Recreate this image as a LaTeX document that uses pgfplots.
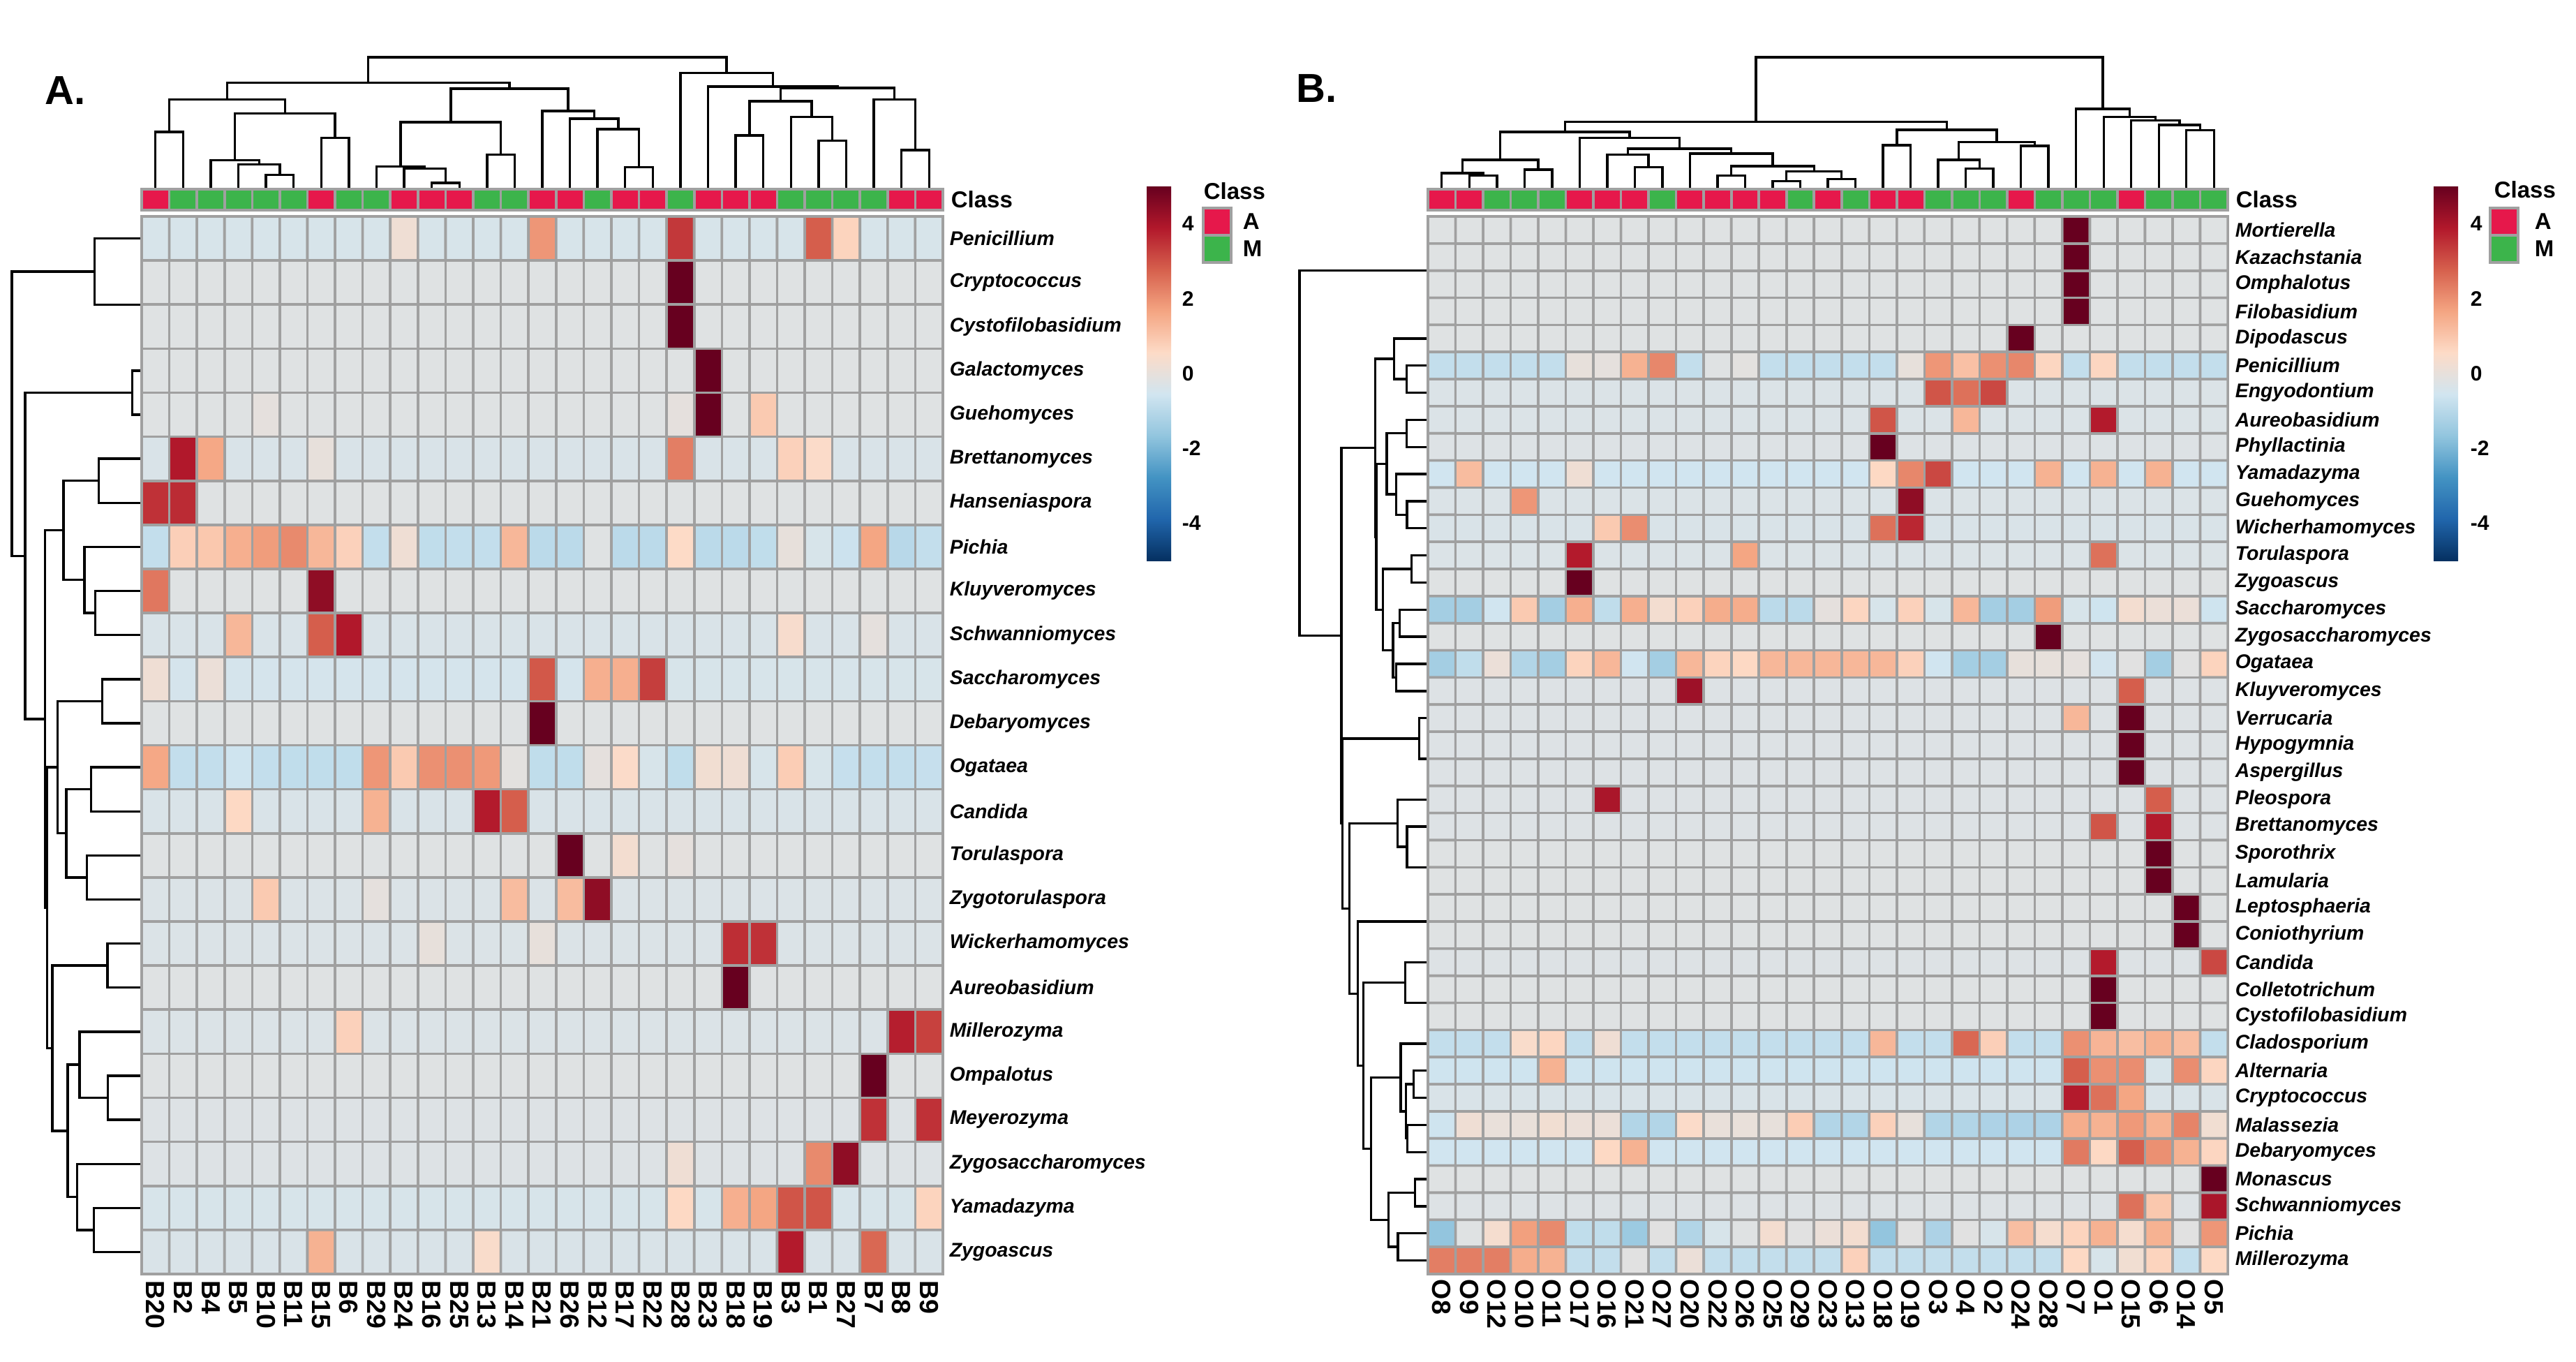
\documentclass[border=0pt]{standalone}
\usepackage{pgfplots}
\pgfplotsset{compat=1.18}
\usepackage{fontspec}
\setmainfont{Liberation Sans}
\definecolor{clsA}{RGB}{230,24,75}
\definecolor{clsM}{RGB}{60,180,75}
\definecolor{gridc}{RGB}{160,160,160}
\pgfplotsset{
 colormap={rdbu}{rgb255=(5,48,97) rgb255=(33,102,172) rgb255=(67,147,195) rgb255=(146,197,222) rgb255=(209,229,240) rgb255=(253,219,199) rgb255=(244,165,130) rgb255=(214,96,77) rgb255=(178,24,43) rgb255=(103,0,31)},
 dendro/.style={scale only axis, hide axis, clip=false, unbounded coords=jump},
 dline/.style={black, line width=0.85pt, line join=miter},
 clsbar/.style={ybar, bar width=1, bar shift=0pt, draw=gridc, line width=0.9pt},
}
\newcommand\rowf{\fontsize{7.1}{8}\selectfont\bfseries\itshape}
\newcommand\colf{\fontsize{9.4}{10}\selectfont\bfseries}
\newcommand\clsf{\fontsize{8.25}{9}\selectfont\bfseries}
\newcommand\tickf{\fontsize{7.5}{8}\selectfont\bfseries}
\newcommand\panf{\fontsize{14.5}{16}\selectfont\bfseries}
\begin{document}
\begin{tikzpicture}
\useasboundingbox (0,0) rectangle (922.75pt,487.5pt);

%================ PANEL A =================
% column dendrogram
\begin{axis}[dendro, at={(50.75pt,420.25pt)}, anchor=south west, width=287pt, height=46.75pt,
 xmin=0.5, xmax=29.5, ymin=0, ymax=563]
\addplot[dline] coordinates {
(1,0)(1,241)(2,241)(2,0)(nan,nan)
(5,0)(5,55)(6,55)(6,0)(nan,nan)
(4,0)(4,101)(5.5,101)(5.5,55)(nan,nan)
(3,0)(3,119)(4.75,119)(4.75,101)(nan,nan)
(7,0)(7,216)(8,216)(8,0)(nan,nan)
(3.875,119)(3.875,320)(7.5,320)(7.5,216)(nan,nan)
(1.5,241)(1.5,380)(5.6875,380)(5.6875,320)(nan,nan)
(11,0)(11,21)(12,21)(12,0)(nan,nan)
(10,0)(10,83)(11.5,83)(11.5,21)(nan,nan)
(9,0)(9,92)(10.75,92)(10.75,83)(nan,nan)
(13,0)(13,143)(14,143)(14,0)(nan,nan)
(9.875,92)(9.875,283)(13.5,283)(13.5,143)(nan,nan)
(18,0)(18,88)(19,88)(19,0)(nan,nan)
(17,0)(17,253)(18.5,253)(18.5,88)(nan,nan)
(16,0)(16,298)(17.75,298)(17.75,253)(nan,nan)
(15,0)(15,331)(16.875,331)(16.875,298)(nan,nan)
(11.6875,283)(11.6875,428)(15.9375,428)(15.9375,331)(nan,nan)
(3.59375,380)(3.59375,453)(13.8125,453)(13.8125,428)(nan,nan)
(22,0)(22,226)(23,226)(23,0)(nan,nan)
(25,0)(25,203)(26,203)(26,0)(nan,nan)
(24,0)(24,305)(25.5,305)(25.5,203)(nan,nan)
(22.5,226)(22.5,373)(24.75,373)(24.75,305)(nan,nan)
(28,0)(28,163)(29,163)(29,0)(nan,nan)
(27,0)(27,381)(28.5,381)(28.5,163)(nan,nan)
(23.625,373)(23.625,430)(27.75,430)(27.75,381)(nan,nan)
(21,0)(21,436)(25.6875,436)(25.6875,430)(nan,nan)
(20,0)(20,495)(23.34375,495)(23.34375,436)(nan,nan)
(8.703125,453)(8.703125,563)(21.671875,563)(21.671875,495)
};
\end{axis}

% row dendrogram
\begin{axis}[dendro, at={(4.25pt,31.25pt)}, anchor=south west, width=46.5pt, height=378.75pt,
 xmin=0, xmax=557, x dir=reverse, ymin=0.5, ymax=24.5, y dir=reverse]
\addplot[dline] coordinates {
(0,1)(203,1)(203,2.5)(0,2.5)(nan,nan)
(0,4)(40,4)(40,5)(0,5)(nan,nan)
(0,6)(185,6)(185,7)(0,7)(nan,nan)
(0,9)(200,9)(200,10)(0,10)(nan,nan)
(0,8)(245,8)(245,9.5)(200,9.5)(nan,nan)
(185,6.5)(335,6.5)(335,8.75)(245,8.75)(nan,nan)
(0,11)(170,11)(170,12)(0,12)(nan,nan)
(0,13)(218,13)(218,14)(0,14)(nan,nan)
(0,15)(235,15)(235,16)(0,16)(nan,nan)
(218,13.5)(323,13.5)(323,15.5)(235,15.5)(nan,nan)
(170,11.5)(360,11.5)(360,14.5)(323,14.5)(nan,nan)
(0,17)(147,17)(147,18)(0,18)(nan,nan)
(0,20)(145,20)(145,21)(0,21)(nan,nan)
(0,19)(267,19)(267,20.5)(145,20.5)(nan,nan)
(0,23)(205,23)(205,24)(0,24)(nan,nan)
(0,22)(277,22)(277,23.5)(205,23.5)(nan,nan)
(267,19.75)(318,19.75)(318,22.75)(277,22.75)(nan,nan)
(147,17.5)(383,17.5)(383,21.25)(318,21.25)(nan,nan)
(360,13)(405,13)(405,19.375)(383,19.375)(nan,nan)
(335,7.625)(415,7.625)(415,16.1875)(405,16.1875)(nan,nan)
(40,4.5)(500,4.5)(500,11.90625)(415,11.90625)(nan,nan)
(203,1.75)(557,1.75)(557,8.203125)(500,8.203125)
};
\end{axis}

% class bar
\begin{axis}[scale only axis, hide axis, clip=false, at={(50.75pt,412.25pt)}, anchor=south west, width=287pt, height=7.5pt,
 xmin=0.5, xmax=29.5, ymin=0, ymax=1]
\addplot[clsbar, fill=clsA] coordinates {(1,1)(7,1)(10,1)(11,1)(12,1)(15,1)(16,1)(18,1)(19,1)(21,1)(22,1)(23,1)(28,1)(29,1)};
\addplot[clsbar, fill=clsM] coordinates {(2,1)(3,1)(4,1)(5,1)(6,1)(8,1)(9,1)(13,1)(14,1)(17,1)(20,1)(24,1)(25,1)(26,1)(27,1)};
\node[anchor=west, inner sep=0pt, font=\clsf] at (axis cs:29.5,0.5) [xshift=2.75pt] {Class};
\end{axis}

% heatmap
\begin{axis}[at={(50.75pt,31.25pt)}, anchor=south west, width=287pt, height=378.75pt, scale only axis, clip=false,
 xmin=0.5, xmax=29.5, ymin=0.5, ymax=24.5, y dir=reverse,
 axis line style={draw=none}, major tick length=0pt,
 colormap name=rdbu, point meta min=-5, point meta max=5,
 xtick={1,...,29},
 xticklabels={B20,B2,B4,B5,B10,B11,B15,B6,B29,B24,B16,B25,B13,B14,B21,B26,B12,B17,B22,B28,B23,B18,B19,B3,B1,B27,B7,B8,B9},
 xticklabel style={font=\colf, rotate=-90, anchor=west, inner xsep=2.25pt, inner ysep=0pt},
 ytick={1,...,24},
 yticklabels={Penicillium,Cryptococcus,Cystofilobasidium,Galactomyces,Guehomyces,Brettanomyces,Hanseniaspora,Pichia,Kluyveromyces,Schwanniomyces,Saccharomyces,Debaryomyces,Ogataea,Candida,Torulaspora,Zygotorulaspora,Wickerhamomyces,Aureobasidium,Millerozyma,Ompalotus,Meyerozyma,Zygosaccharomyces,Yamadazyma,Zygoascus},
 yticklabel pos=right,
 yticklabel style={font=\rowf, anchor=west, inner xsep=2.25pt, inner ysep=0pt},
 colorbar,
 colorbar style={at={(parent axis.north east)}, anchor=north west, xshift=64.5pt, yshift=10.75pt,
   width=8.75pt, height=134pt, scale only axis, ytick={-4,-2,0,2,4}, major tick length=0pt,
   axis line style={draw=none},
   yticklabel style={font=\tickf, /pgf/number format/assume math mode=true, anchor=west, inner xsep=3.75pt, inner ysep=0pt}}
]
\addplot[matrix plot*, mesh/cols=29, point meta=explicit, draw=gridc, line width=0.9pt]
 table[row sep=\\, x expr={\coordindex-29*floor((\coordindex+0.5)/29)+1}, y expr={floor((\coordindex+0.5)/29)+1}, meta=v] {v\\
-0.4\\ -0.4\\ -0.4\\ -0.4\\ -0.4\\  -0.4\\ -0.4\\ -0.4\\ -0.4\\ 0.2\\  -0.4\\ -0.4\\ -0.4\\ -0.4\\ 1.9\\  -0.4\\ -0.4\\ -0.4\\ -0.4\\ 3.4\\  -0.4\\ -0.4\\ -0.4\\ -0.4\\ 2.8\\  0.7\\ -0.4\\ -0.4\\ -0.4\\
-0.2\\ -0.2\\ -0.2\\ -0.2\\ -0.2\\  -0.2\\ -0.2\\ -0.2\\ -0.2\\ -0.2\\  -0.2\\ -0.2\\ -0.2\\ -0.2\\ -0.2\\  -0.2\\ -0.2\\ -0.2\\ -0.2\\ 5\\  -0.2\\ -0.2\\ -0.2\\ -0.2\\ -0.2\\  -0.2\\ -0.2\\ -0.2\\ -0.2\\
-0.2\\ -0.2\\ -0.2\\ -0.2\\ -0.2\\  -0.2\\ -0.2\\ -0.2\\ -0.2\\ -0.2\\  -0.2\\ -0.2\\ -0.2\\ -0.2\\ -0.2\\  -0.2\\ -0.2\\ -0.2\\ -0.2\\ 5\\  -0.2\\ -0.2\\ -0.2\\ -0.2\\ -0.2\\  -0.2\\ -0.2\\ -0.2\\ -0.2\\
-0.2\\ -0.2\\ -0.2\\ -0.2\\ -0.2\\  -0.2\\ -0.2\\ -0.2\\ -0.2\\ -0.2\\  -0.2\\ -0.2\\ -0.2\\ -0.2\\ -0.2\\  -0.2\\ -0.2\\ -0.2\\ -0.2\\ -0.2\\  5\\ -0.2\\ -0.2\\ -0.2\\ -0.2\\  -0.2\\ -0.2\\ -0.2\\ -0.2\\
-0.2\\ -0.2\\ -0.2\\ -0.2\\ -0.05\\  -0.2\\ -0.2\\ -0.2\\ -0.2\\ -0.2\\  -0.2\\ -0.2\\ -0.2\\ -0.2\\ -0.2\\  -0.2\\ -0.2\\ -0.2\\ -0.2\\ -0.05\\  5\\ -0.2\\ 0.9\\ -0.2\\ -0.2\\  -0.2\\ -0.2\\ -0.2\\ -0.2\\
-0.35\\ 3.9\\ 1.6\\ -0.35\\ -0.35\\  -0.35\\ 0\\ -0.35\\ -0.35\\ -0.35\\  -0.35\\ -0.35\\ -0.35\\ -0.35\\ -0.35\\  -0.35\\ -0.35\\ -0.35\\ -0.35\\ 2.3\\  -0.35\\ -0.35\\ -0.35\\ 0.75\\ 0.5\\  -0.35\\ -0.35\\ -0.35\\ -0.35\\
3.5\\ 3.6\\ -0.2\\ -0.2\\ -0.2\\  -0.2\\ -0.2\\ -0.2\\ -0.2\\ -0.2\\  -0.2\\ -0.2\\ -0.2\\ -0.2\\ -0.2\\  -0.2\\ -0.2\\ -0.2\\ -0.2\\ -0.2\\  -0.2\\ -0.2\\ -0.2\\ -0.2\\ -0.2\\  -0.2\\ -0.2\\ -0.2\\ -0.2\\
-0.8\\ 0.8\\ 0.95\\ 1.45\\ 1.8\\  2.1\\ 1.3\\ 0.75\\ -0.8\\ 0.2\\  -0.85\\ -0.8\\ -0.8\\ 1.3\\ -0.95\\  -0.95\\ -0.2\\ -0.95\\ -0.95\\ 0.55\\  -0.95\\ -0.95\\ -0.85\\ 0\\ -0.4\\  -0.65\\ 1.65\\ -1.0\\ -0.8\\
2.4\\ -0.2\\ -0.2\\ -0.2\\ -0.2\\  -0.2\\ 4.4\\ -0.2\\ -0.2\\ -0.2\\  -0.2\\ -0.2\\ -0.2\\ -0.2\\ -0.2\\  -0.2\\ -0.2\\ -0.2\\ -0.2\\ -0.2\\  -0.2\\ -0.2\\ -0.2\\ -0.2\\ -0.2\\  -0.2\\ -0.2\\ -0.2\\ -0.2\\
-0.35\\ -0.35\\ -0.35\\ 1.3\\ -0.35\\  -0.35\\ 2.8\\ 3.9\\ -0.35\\ -0.35\\  -0.35\\ -0.35\\ -0.35\\ -0.35\\ -0.35\\  -0.35\\ -0.35\\ -0.35\\ -0.35\\ -0.35\\  -0.35\\ -0.35\\ -0.35\\ 0.4\\ -0.35\\  -0.35\\ -0.05\\ -0.35\\ -0.35\\
0.2\\ -0.45\\ 0.1\\ -0.45\\ -0.45\\  -0.45\\ -0.45\\ -0.45\\ -0.45\\ -0.45\\  -0.45\\ -0.45\\ -0.45\\ -0.45\\ 2.9\\  -0.45\\ 1.45\\ 1.45\\ 3.3\\ -0.4\\  -0.4\\ -0.4\\ -0.4\\ -0.4\\ -0.4\\  -0.4\\ -0.4\\ -0.4\\ -0.4\\
-0.2\\ -0.2\\ -0.2\\ -0.2\\ -0.2\\  -0.2\\ -0.2\\ -0.2\\ -0.2\\ -0.2\\  -0.2\\ -0.2\\ -0.2\\ -0.2\\ 5\\  -0.2\\ -0.2\\ -0.2\\ -0.2\\ -0.2\\  -0.2\\ -0.2\\ -0.2\\ -0.2\\ -0.2\\  -0.2\\ -0.2\\ -0.2\\ -0.2\\
1.6\\ -0.8\\ -0.8\\ -0.6\\ -0.8\\  -0.85\\ -0.85\\ -0.85\\ 1.9\\ 0.9\\  2.0\\ 2.0\\ 1.85\\ -0.1\\ -0.85\\  -0.85\\ -0.05\\ 0.5\\ -0.4\\ -0.85\\  0.25\\ 0.2\\ -0.4\\ 0.85\\ -0.4\\  -0.75\\ -0.8\\ -0.8\\ -0.75\\
-0.35\\ -0.35\\ -0.35\\ 0.6\\ -0.35\\  -0.35\\ -0.35\\ -0.35\\ 1.4\\ -0.35\\  -0.35\\ -0.35\\ 3.85\\ 2.8\\ -0.35\\  -0.35\\ -0.35\\ -0.35\\ -0.35\\ -0.35\\  -0.35\\ -0.35\\ -0.35\\ -0.35\\ -0.35\\  -0.35\\ -0.35\\ -0.35\\ -0.35\\
-0.2\\ -0.2\\ -0.2\\ -0.2\\ -0.2\\  -0.2\\ -0.2\\ -0.2\\ -0.2\\ -0.2\\  -0.2\\ -0.2\\ -0.2\\ -0.2\\ -0.2\\  5\\ -0.2\\ 0.3\\ -0.2\\ -0.05\\  -0.2\\ -0.2\\ -0.2\\ -0.2\\ -0.2\\  -0.2\\ -0.2\\ -0.2\\ -0.2\\
-0.3\\ -0.3\\ -0.3\\ -0.3\\ 0.9\\  -0.3\\ -0.3\\ -0.3\\ -0.05\\ -0.3\\  -0.3\\ -0.3\\ -0.3\\ 1.2\\ -0.3\\  1.2\\ 4.4\\ -0.3\\ -0.3\\ -0.3\\  -0.3\\ -0.3\\ -0.3\\ -0.3\\ -0.3\\  -0.3\\ -0.3\\ -0.3\\ -0.3\\
-0.3\\ -0.3\\ -0.3\\ -0.3\\ -0.3\\  -0.3\\ -0.3\\ -0.3\\ -0.3\\ -0.3\\  0\\ -0.3\\ -0.3\\ -0.3\\ 0\\  -0.3\\ -0.3\\ -0.3\\ -0.3\\ -0.3\\  -0.3\\ 3.55\\ 3.5\\ -0.3\\ -0.3\\  -0.3\\ -0.3\\ -0.3\\ -0.3\\
-0.2\\ -0.2\\ -0.2\\ -0.2\\ -0.2\\  -0.2\\ -0.2\\ -0.2\\ -0.2\\ -0.2\\  -0.2\\ -0.2\\ -0.2\\ -0.2\\ -0.2\\  -0.2\\ -0.2\\ -0.2\\ -0.2\\ -0.2\\  -0.2\\ 5\\ -0.2\\ -0.2\\ -0.2\\  -0.2\\ -0.2\\ -0.2\\ -0.2\\
-0.3\\ -0.3\\ -0.3\\ -0.3\\ -0.3\\  -0.3\\ -0.3\\ 0.75\\ -0.3\\ -0.3\\  -0.3\\ -0.3\\ -0.3\\ -0.3\\ -0.3\\  -0.3\\ -0.3\\ -0.3\\ -0.3\\ -0.3\\  -0.3\\ -0.3\\ -0.3\\ -0.3\\ -0.3\\  -0.3\\ -0.3\\ 3.8\\ 3.25\\
-0.2\\ -0.2\\ -0.2\\ -0.2\\ -0.2\\  -0.2\\ -0.2\\ -0.2\\ -0.2\\ -0.2\\  -0.2\\ -0.2\\ -0.2\\ -0.2\\ -0.2\\  -0.2\\ -0.2\\ -0.2\\ -0.2\\ -0.2\\  -0.2\\ -0.2\\ -0.2\\ -0.2\\ -0.2\\  -0.2\\ 5\\ -0.2\\ -0.2\\
-0.25\\ -0.25\\ -0.25\\ -0.25\\ -0.25\\  -0.25\\ -0.25\\ -0.25\\ -0.25\\ -0.25\\  -0.25\\ -0.25\\ -0.25\\ -0.25\\ -0.25\\  -0.25\\ -0.25\\ -0.25\\ -0.25\\ -0.25\\  -0.25\\ -0.25\\ -0.25\\ -0.25\\ -0.25\\  -0.25\\ 3.5\\ -0.25\\ 3.5\\
-0.25\\ -0.25\\ -0.25\\ -0.25\\ -0.25\\  -0.25\\ -0.25\\ -0.25\\ -0.25\\ -0.25\\  -0.25\\ -0.25\\ -0.25\\ -0.25\\ -0.25\\  -0.25\\ -0.25\\ -0.25\\ -0.25\\ 0.2\\  -0.25\\ -0.25\\ -0.25\\ -0.25\\ 2.1\\  4.4\\ -0.25\\ -0.25\\ -0.25\\
-0.4\\ -0.4\\ -0.4\\ -0.4\\ -0.4\\  -0.4\\ -0.4\\ -0.4\\ -0.4\\ -0.4\\  -0.4\\ -0.4\\ -0.4\\ -0.4\\ -0.4\\  -0.4\\ -0.4\\ -0.4\\ -0.4\\ 0.6\\  -0.4\\ 1.45\\ 1.65\\ 2.95\\ 2.95\\  -0.4\\ -0.4\\ -0.4\\ 0.7\\
-0.35\\ -0.35\\ -0.35\\ -0.35\\ -0.35\\  -0.35\\ 1.4\\ -0.35\\ -0.35\\ -0.35\\  -0.35\\ -0.35\\ 0.45\\ -0.35\\ -0.35\\  -0.35\\ -0.35\\ -0.35\\ -0.35\\ -0.35\\  -0.35\\ -0.35\\ -0.35\\ 3.85\\ -0.35\\  -0.35\\ 2.65\\ -0.35\\ -0.35\\
};
\end{axis}

\node[anchor=west, inner sep=0pt, font=\panf] at (16pt,455pt) {A.};
\node[anchor=west, inner sep=0pt, font=\clsf] at (431pt,419pt) {Class};
\draw[gridc, line width=0.9pt, fill=clsA] (431pt,403.25pt) rectangle (441pt,413pt);
\draw[gridc, line width=0.9pt, fill=clsM] (431pt,393.5pt) rectangle (441pt,403.25pt);
\node[anchor=west, inner sep=0pt, font=\clsf] at (445pt,408.1pt) {A};
\node[anchor=west, inner sep=0pt, font=\clsf] at (445pt,398.4pt) {M};

%================ PANEL B =================
\begin{axis}[dendro, at={(511.5pt,420.25pt)}, anchor=south west, width=286.5pt, height=46.75pt,
 xmin=0.5, xmax=29.5, ymin=0, ymax=563]
\addplot[dline] coordinates {
(2,0)(2,53)(3,53)(3,0)(nan,nan)
(1,0)(1,63)(2.5,63)(2.5,53)(nan,nan)
(4,0)(4,78)(5,78)(5,0)(nan,nan)
(1.75,63)(1.75,120)(4.5,120)(4.5,78)(nan,nan)
(8,0)(8,88)(9,88)(9,0)(nan,nan)
(7,0)(7,143)(8.5,143)(8.5,88)(nan,nan)
(11,0)(11,53)(12,53)(12,0)(nan,nan)
(13,0)(13,28)(14,28)(14,0)(nan,nan)
(15,0)(15,38)(16,38)(16,0)(nan,nan)
(13.5,28)(13.5,70)(15.5,70)(15.5,38)(nan,nan)
(11.5,53)(11.5,93)(14.5,93)(14.5,70)(nan,nan)
(10,0)(10,148)(13,148)(13,93)(nan,nan)
(7.75,143)(7.75,168)(11.5,168)(11.5,148)(nan,nan)
(6,0)(6,216)(9.625,216)(9.625,168)(nan,nan)
(3.125,120)(3.125,241)(7.8125,241)(7.8125,216)(nan,nan)
(17,0)(17,183)(18,183)(18,0)(nan,nan)
(20,0)(20,83)(21,83)(21,0)(nan,nan)
(19,0)(19,120)(20.5,120)(20.5,83)(nan,nan)
(22,0)(22,180)(23,180)(23,0)(nan,nan)
(19.75,120)(19.75,198)(22.5,198)(22.5,180)(nan,nan)
(17.5,183)(17.5,250)(21.125,250)(21.125,198)(nan,nan)
(5.46875,241)(5.46875,284)(19.3125,284)(19.3125,250)(nan,nan)
(28,0)(28,248)(29,248)(29,0)(nan,nan)
(27,0)(27,271)(28.5,271)(28.5,248)(nan,nan)
(26,0)(26,290)(27.75,290)(27.75,271)(nan,nan)
(25,0)(25,306)(26.875,306)(26.875,290)(nan,nan)
(24,0)(24,340)(25.9375,340)(25.9375,306)(nan,nan)
(12.390625,284)(12.390625,563)(24.96875,563)(24.96875,340)
};
\end{axis}

\begin{axis}[dendro, at={(465.5pt,31.25pt)}, anchor=south west, width=46pt, height=378.75pt,
 xmin=0, xmax=552, x dir=reverse, ymin=0.5, ymax=39.5, y dir=reverse]
\addplot[dline] coordinates {
(0,6)(92,6)(92,7)(0,7)(nan,nan)
(0,5)(145,5)(145,6.5)(92,6.5)(nan,nan)
(0,8)(92,8)(92,9)(0,9)(nan,nan)
(0,11)(90,11)(90,12)(0,12)(nan,nan)
(0,10)(137,10)(137,11.5)(90,11.5)(nan,nan)
(92,8.5)(177,8.5)(177,10.75)(137,10.75)(nan,nan)
(0,13)(70,13)(70,14)(0,14)(nan,nan)
(0,15)(122,15)(122,16)(0,16)(nan,nan)
(0,17)(137,17)(137,18)(0,18)(nan,nan)
(122,15.5)(150,15.5)(150,17.5)(137,17.5)(nan,nan)
(70,13.5)(194,13.5)(194,16.5)(150,16.5)(nan,nan)
(177,9.625)(222,9.625)(222,15)(194,15)(nan,nan)
(145,5.75)(227,5.75)(227,12.3125)(222,12.3125)(nan,nan)
(0,19)(37,19)(37,20.5)(0,20.5)(nan,nan)
(0,23)(90,23)(90,24.5)(0,24.5)(nan,nan)
(0,22)(130,22)(130,23.75)(90,23.75)(nan,nan)
(0,28)(97,28)(97,29.5)(0,29.5)(nan,nan)
(0,32)(62,32)(62,33)(0,33)(nan,nan)
(0,34)(89,34)(89,35)(0,35)(nan,nan)
(62,32.5)(95,32.5)(95,34.5)(89,34.5)(nan,nan)
(0,31)(117,31)(117,33.5)(95,33.5)(nan,nan)
(0,36)(55,36)(55,37)(0,37)(nan,nan)
(0,38)(129,38)(129,39)(0,39)(nan,nan)
(55,36.5)(169,36.5)(169,38.5)(129,38.5)(nan,nan)
(117,32.25)(244,32.25)(244,37.5)(169,37.5)(nan,nan)
(97,28.75)(277,28.75)(277,34.875)(244,34.875)(nan,nan)
(0,26.5)(302,26.5)(302,31.8125)(277,31.8125)(nan,nan)
(130,22.875)(337,22.875)(337,29.15625)(302,29.15625)(nan,nan)
(37,19.75)(367,19.75)(367,26.015625)(337,26.015625)(nan,nan)
(227,9.03125)(372,9.03125)(372,22.8828)(367,22.8828)(nan,nan)
(0,2.5)(552,2.5)(552,15.957)(372,15.957)
};
\end{axis}

\begin{axis}[scale only axis, hide axis, clip=false, at={(511.5pt,412.25pt)}, anchor=south west, width=286.5pt, height=7.5pt,
 xmin=0.5, xmax=29.5, ymin=0, ymax=1]
\addplot[clsbar, fill=clsA] coordinates {(1,1)(2,1)(6,1)(7,1)(8,1)(10,1)(11,1)(12,1)(13,1)(15,1)(17,1)(18,1)(22,1)(26,1)};
\addplot[clsbar, fill=clsM] coordinates {(3,1)(4,1)(5,1)(9,1)(14,1)(16,1)(19,1)(20,1)(21,1)(23,1)(24,1)(25,1)(27,1)(28,1)(29,1)};
\node[anchor=west, inner sep=0pt, font=\clsf] at (axis cs:29.5,0.5) [xshift=2.75pt] {Class};
\end{axis}

\begin{axis}[at={(511.5pt,31.25pt)}, anchor=south west, width=286.5pt, height=378.75pt, scale only axis, clip=false,
 xmin=0.5, xmax=29.5, ymin=0.5, ymax=39.5, y dir=reverse,
 axis line style={draw=none}, major tick length=0pt,
 colormap name=rdbu, point meta min=-5, point meta max=5,
 xtick={1,...,29},
 xticklabels={O8,O9,O12,O10,O11,O17,O16,O21,O27,O20,O22,O26,O25,O29,O23,O13,O18,O19,O3,O4,O2,O24,O28,O7,O1,O15,O6,O14,O5},
 xticklabel style={font=\colf, rotate=-90, anchor=west, inner xsep=1.75pt, inner ysep=0pt},
 ytick={1,...,39},
 yticklabels={Mortierella,Kazachstania,Omphalotus,Filobasidium,Dipodascus,Penicillium,Engyodontium,Aureobasidium,Phyllactinia,Yamadazyma,Guehomyces,Wicherhamomyces,Torulaspora,Zygoascus,Saccharomyces,Zygosaccharomyces,Ogataea,Kluyveromyces,Verrucaria,Hypogymnia,Aspergillus,Pleospora,Brettanomyces,Sporothrix,Lamularia,Leptosphaeria,Coniothyrium,Candida,Colletotrichum,Cystofilobasidium,Cladosporium,Alternaria,Cryptococcus,Malassezia,Debaryomyces,Monascus,Schwanniomyces,Pichia,Millerozyma},
 yticklabel pos=right,
 yticklabel style={font=\rowf, anchor=west, inner xsep=2.5pt, inner ysep=0pt},
 colorbar,
 colorbar style={at={(parent axis.north east)}, anchor=north west, xshift=65.25pt, yshift=10.75pt,
   width=8.75pt, height=134pt, scale only axis, ytick={-4,-2,0,2,4}, major tick length=0pt,
   axis line style={draw=none},
   yticklabel style={font=\tickf, /pgf/number format/assume math mode=true, anchor=west, inner xsep=4.25pt, inner ysep=0pt}}
]
\addplot[matrix plot*, mesh/cols=29, point meta=explicit, draw=gridc, line width=0.9pt]
 table[row sep=\\, x expr={\coordindex-29*floor((\coordindex+0.5)/29)+1}, y expr={floor((\coordindex+0.5)/29)+1}, meta=v] {v\\
-0.2\\ -0.2\\ -0.2\\ -0.2\\ -0.2\\  -0.2\\ -0.2\\ -0.2\\ -0.2\\ -0.2\\  -0.2\\ -0.2\\ -0.2\\ -0.2\\ -0.2\\  -0.2\\ -0.2\\ -0.2\\ -0.2\\ -0.2\\  -0.2\\ -0.2\\ -0.2\\ 5\\ -0.2\\  -0.2\\ -0.2\\ -0.2\\ -0.2\\
-0.2\\ -0.2\\ -0.2\\ -0.2\\ -0.2\\  -0.2\\ -0.2\\ -0.2\\ -0.2\\ -0.2\\  -0.2\\ -0.2\\ -0.2\\ -0.2\\ -0.2\\  -0.2\\ -0.2\\ -0.2\\ -0.2\\ -0.2\\  -0.2\\ -0.2\\ -0.2\\ 5\\ -0.2\\  -0.2\\ -0.2\\ -0.2\\ -0.2\\
-0.2\\ -0.2\\ -0.2\\ -0.2\\ -0.2\\  -0.2\\ -0.2\\ -0.2\\ -0.2\\ -0.2\\  -0.2\\ -0.2\\ -0.2\\ -0.2\\ -0.2\\  -0.2\\ -0.2\\ -0.2\\ -0.2\\ -0.2\\  -0.2\\ -0.2\\ -0.2\\ 5\\ -0.2\\  -0.2\\ -0.2\\ -0.2\\ -0.2\\
-0.2\\ -0.2\\ -0.2\\ -0.2\\ -0.2\\  -0.2\\ -0.2\\ -0.2\\ -0.2\\ -0.2\\  -0.2\\ -0.2\\ -0.2\\ -0.2\\ -0.2\\  -0.2\\ -0.2\\ -0.2\\ -0.2\\ -0.2\\  -0.2\\ -0.2\\ -0.2\\ 5\\ -0.2\\  -0.2\\ -0.2\\ -0.2\\ -0.2\\
-0.2\\ -0.2\\ -0.2\\ -0.2\\ -0.2\\  -0.2\\ -0.2\\ -0.2\\ -0.2\\ -0.2\\  -0.2\\ -0.2\\ -0.2\\ -0.2\\ -0.2\\  -0.2\\ -0.2\\ -0.2\\ -0.2\\ -0.2\\  -0.2\\ 5\\ -0.2\\ -0.2\\ -0.2\\  -0.2\\ -0.2\\ -0.2\\ -0.2\\
-0.8\\ -0.8\\ -0.8\\ -0.8\\ -0.8\\  0\\ -0.05\\ 1.4\\ 2.15\\ -0.8\\  -0.2\\ -0.1\\ -0.8\\ -0.8\\ -0.8\\  -0.8\\ -0.8\\ 0\\ 1.9\\ 1.1\\  2.0\\ 2.15\\ 0.65\\ -0.8\\ 0.65\\  -0.8\\ -0.8\\ -0.8\\ -0.8\\
-0.3\\ -0.3\\ -0.3\\ -0.3\\ -0.3\\  -0.3\\ -0.3\\ -0.3\\ -0.3\\ -0.3\\  -0.3\\ -0.3\\ -0.3\\ -0.3\\ -0.3\\  -0.3\\ -0.3\\ -0.3\\ 2.95\\ 2.5\\  3.15\\ -0.3\\ -0.3\\ -0.3\\ -0.3\\  -0.3\\ -0.3\\ -0.3\\ -0.3\\
-0.3\\ -0.3\\ -0.3\\ -0.3\\ -0.3\\  -0.3\\ -0.3\\ -0.3\\ -0.3\\ -0.3\\  -0.3\\ -0.3\\ -0.3\\ -0.3\\ -0.3\\  -0.3\\ 2.95\\ -0.3\\ -0.3\\ 1.3\\  -0.3\\ -0.3\\ -0.3\\ -0.3\\ 3.85\\  -0.3\\ -0.3\\ -0.3\\ -0.3\\
-0.25\\ -0.25\\ -0.25\\ -0.25\\ -0.25\\  -0.25\\ -0.25\\ -0.25\\ -0.25\\ -0.25\\  -0.25\\ -0.25\\ -0.25\\ -0.25\\ -0.25\\  -0.25\\ 5\\ -0.25\\ -0.25\\ -0.25\\  -0.25\\ -0.25\\ -0.25\\ -0.25\\ -0.25\\  -0.25\\ -0.25\\ -0.25\\ -0.25\\
-0.55\\ 1.2\\ -0.55\\ -0.55\\ -0.55\\  0.2\\ -0.55\\ -0.55\\ -0.55\\ -0.55\\  -0.55\\ -0.55\\ -0.55\\ -0.55\\ -0.55\\  -0.55\\ 0.6\\ 2.15\\ 3.15\\ -0.55\\  -0.55\\ -0.55\\ 1.4\\ -0.55\\ 1.4\\  -0.55\\ 1.4\\ -0.55\\ -0.55\\
-0.3\\ -0.3\\ -0.3\\ 1.9\\ -0.3\\  -0.3\\ -0.3\\ -0.3\\ -0.3\\ -0.3\\  -0.3\\ -0.3\\ -0.3\\ -0.3\\ -0.3\\  -0.3\\ -0.3\\ 4.4\\ -0.3\\ -0.3\\  -0.3\\ -0.3\\ -0.3\\ -0.3\\ -0.3\\  -0.3\\ -0.3\\ -0.3\\ -0.3\\
-0.35\\ -0.35\\ -0.35\\ -0.35\\ -0.35\\  -0.35\\ 0.9\\ 2.05\\ -0.35\\ -0.35\\  -0.35\\ -0.35\\ -0.35\\ -0.35\\ -0.35\\  -0.35\\ 2.5\\ 3.65\\ -0.35\\ -0.35\\  -0.35\\ -0.35\\ -0.35\\ -0.35\\ -0.35\\  -0.35\\ -0.35\\ -0.35\\ -0.35\\
-0.3\\ -0.3\\ -0.3\\ -0.3\\ -0.3\\  3.85\\ -0.3\\ -0.3\\ -0.3\\ -0.3\\  -0.3\\ 1.65\\ -0.3\\ -0.3\\ -0.3\\  -0.3\\ -0.3\\ -0.3\\ -0.3\\ -0.3\\  -0.3\\ -0.3\\ -0.3\\ -0.3\\ 2.5\\  -0.3\\ -0.3\\ -0.3\\ -0.3\\
-0.2\\ -0.2\\ -0.2\\ -0.2\\ -0.2\\  5\\ -0.2\\ -0.2\\ -0.2\\ -0.2\\  -0.2\\ -0.2\\ -0.2\\ -0.2\\ -0.2\\  -0.2\\ -0.2\\ -0.2\\ -0.2\\ -0.2\\  -0.2\\ -0.2\\ -0.2\\ -0.2\\ -0.2\\  -0.2\\ -0.2\\ -0.2\\ -0.2\\
-1.35\\ -1.35\\ -0.55\\ 0.9\\ -1.35\\  1.45\\ -0.85\\ 1.45\\ 0.3\\ 0.75\\  1.5\\ 1.5\\ -0.95\\ -0.95\\ -0.05\\  0.65\\ -0.4\\ 0.75\\ -0.4\\ 1.3\\  -1.35\\ -1.35\\ 1.8\\ -0.4\\ -0.6\\  0.3\\ 0.1\\ 0.1\\ -0.6\\
-0.2\\ -0.2\\ -0.2\\ -0.2\\ -0.2\\  -0.2\\ -0.2\\ -0.2\\ -0.2\\ -0.2\\  -0.2\\ -0.2\\ -0.2\\ -0.2\\ -0.2\\  -0.2\\ -0.2\\ -0.2\\ -0.2\\ -0.2\\  -0.2\\ -0.2\\ 5\\ -0.2\\ -0.2\\  -0.2\\ -0.2\\ -0.2\\ -0.2\\
-1.35\\ -0.85\\ 0.1\\ -1.1\\ -1.35\\  0.7\\ 1.3\\ -0.55\\ -1.35\\ 1.3\\  0.7\\ 0.6\\ 1.3\\ 1.3\\ 1.3\\  1.3\\ 1.3\\ 0.75\\ -0.55\\ -1.35\\  -1.35\\ 0\\ 0\\ -0.05\\ -0.5\\  -0.15\\ -1.35\\ -0.15\\ 0.7\\
-0.25\\ -0.25\\ -0.25\\ -0.25\\ -0.25\\  -0.25\\ -0.25\\ -0.25\\ -0.25\\ 4.2\\  -0.25\\ -0.25\\ -0.25\\ -0.25\\ -0.25\\  -0.25\\ -0.25\\ -0.25\\ -0.25\\ -0.25\\  -0.25\\ -0.25\\ -0.25\\ -0.25\\ -0.25\\  2.8\\ -0.25\\ -0.25\\ -0.25\\
-0.25\\ -0.25\\ -0.25\\ -0.25\\ -0.25\\  -0.25\\ -0.25\\ -0.25\\ -0.25\\ -0.25\\  -0.25\\ -0.25\\ -0.25\\ -0.25\\ -0.25\\  -0.25\\ -0.25\\ -0.25\\ -0.25\\ -0.25\\  -0.25\\ -0.25\\ -0.25\\ 1.3\\ -0.25\\  5\\ -0.25\\ -0.25\\ -0.25\\
-0.25\\ -0.25\\ -0.25\\ -0.25\\ -0.25\\  -0.25\\ -0.25\\ -0.25\\ -0.25\\ -0.25\\  -0.25\\ -0.25\\ -0.25\\ -0.25\\ -0.25\\  -0.25\\ -0.25\\ -0.25\\ -0.25\\ -0.25\\  -0.25\\ -0.25\\ -0.25\\ -0.25\\ -0.25\\  5\\ -0.25\\ -0.25\\ -0.25\\
-0.25\\ -0.25\\ -0.25\\ -0.25\\ -0.25\\  -0.25\\ -0.25\\ -0.25\\ -0.25\\ -0.25\\  -0.25\\ -0.25\\ -0.25\\ -0.25\\ -0.25\\  -0.25\\ -0.25\\ -0.25\\ -0.25\\ -0.25\\  -0.25\\ -0.25\\ -0.25\\ -0.25\\ -0.25\\  5\\ -0.25\\ -0.25\\ -0.25\\
-0.25\\ -0.25\\ -0.25\\ -0.25\\ -0.25\\  -0.25\\ 4.0\\ -0.25\\ -0.25\\ -0.25\\  -0.25\\ -0.25\\ -0.25\\ -0.25\\ -0.25\\  -0.25\\ -0.25\\ -0.25\\ -0.25\\ -0.25\\  -0.25\\ -0.25\\ -0.25\\ -0.25\\ -0.25\\  -0.25\\ 2.8\\ -0.25\\ -0.25\\
-0.25\\ -0.25\\ -0.25\\ -0.25\\ -0.25\\  -0.25\\ -0.25\\ -0.25\\ -0.25\\ -0.25\\  -0.25\\ -0.25\\ -0.25\\ -0.25\\ -0.25\\  -0.25\\ -0.25\\ -0.25\\ -0.25\\ -0.25\\  -0.25\\ -0.25\\ -0.25\\ -0.25\\ 2.95\\  -0.25\\ 3.85\\ -0.25\\ -0.25\\
-0.2\\ -0.2\\ -0.2\\ -0.2\\ -0.2\\  -0.2\\ -0.2\\ -0.2\\ -0.2\\ -0.2\\  -0.2\\ -0.2\\ -0.2\\ -0.2\\ -0.2\\  -0.2\\ -0.2\\ -0.2\\ -0.2\\ -0.2\\  -0.2\\ -0.2\\ -0.2\\ -0.2\\ -0.2\\  -0.2\\ 5\\ -0.2\\ -0.2\\
-0.2\\ -0.2\\ -0.2\\ -0.2\\ -0.2\\  -0.2\\ -0.2\\ -0.2\\ -0.2\\ -0.2\\  -0.2\\ -0.2\\ -0.2\\ -0.2\\ -0.2\\  -0.2\\ -0.2\\ -0.2\\ -0.2\\ -0.2\\  -0.2\\ -0.2\\ -0.2\\ -0.2\\ -0.2\\  -0.2\\ 5\\ -0.2\\ -0.2\\
-0.2\\ -0.2\\ -0.2\\ -0.2\\ -0.2\\  -0.2\\ -0.2\\ -0.2\\ -0.2\\ -0.2\\  -0.2\\ -0.2\\ -0.2\\ -0.2\\ -0.2\\  -0.2\\ -0.2\\ -0.2\\ -0.2\\ -0.2\\  -0.2\\ -0.2\\ -0.2\\ -0.2\\ -0.2\\  -0.2\\ -0.2\\ 5\\ -0.2\\
-0.2\\ -0.2\\ -0.2\\ -0.2\\ -0.2\\  -0.2\\ -0.2\\ -0.2\\ -0.2\\ -0.2\\  -0.2\\ -0.2\\ -0.2\\ -0.2\\ -0.2\\  -0.2\\ -0.2\\ -0.2\\ -0.2\\ -0.2\\  -0.2\\ -0.2\\ -0.2\\ -0.2\\ -0.2\\  -0.2\\ -0.2\\ 5\\ -0.2\\
-0.25\\ -0.25\\ -0.25\\ -0.25\\ -0.25\\  -0.25\\ -0.25\\ -0.25\\ -0.25\\ -0.25\\  -0.25\\ -0.25\\ -0.25\\ -0.25\\ -0.25\\  -0.25\\ -0.25\\ -0.25\\ -0.25\\ -0.25\\  -0.25\\ -0.25\\ -0.25\\ -0.25\\ 3.85\\  -0.25\\ -0.25\\ -0.25\\ 3.15\\
-0.2\\ -0.2\\ -0.2\\ -0.2\\ -0.2\\  -0.2\\ -0.2\\ -0.2\\ -0.2\\ -0.2\\  -0.2\\ -0.2\\ -0.2\\ -0.2\\ -0.2\\  -0.2\\ -0.2\\ -0.2\\ -0.2\\ -0.2\\  -0.2\\ -0.2\\ -0.2\\ -0.2\\ 5\\  -0.2\\ -0.2\\ -0.2\\ -0.2\\
-0.2\\ -0.2\\ -0.2\\ -0.2\\ -0.2\\  -0.2\\ -0.2\\ -0.2\\ -0.2\\ -0.2\\  -0.2\\ -0.2\\ -0.2\\ -0.2\\ -0.2\\  -0.2\\ -0.2\\ -0.2\\ -0.2\\ -0.2\\  -0.2\\ -0.2\\ -0.2\\ -0.2\\ 5\\  -0.2\\ -0.2\\ -0.2\\ -0.2\\
-0.8\\ -0.8\\ -0.8\\ 0.45\\ 0.65\\  -0.8\\ 0.2\\ -0.8\\ -0.8\\ -0.8\\  -0.8\\ -0.8\\ -0.8\\ -0.8\\ -0.8\\  -0.8\\ 1.3\\ -0.8\\ -0.8\\ 2.65\\  0.8\\ -0.8\\ -0.8\\ 2.0\\ 1.35\\  1.15\\ 1.4\\ 1.15\\ -0.8\\
-0.6\\ -0.6\\ -0.6\\ -0.6\\ 1.4\\  -0.6\\ -0.6\\ -0.6\\ -0.6\\ -0.6\\  -0.6\\ -0.6\\ -0.6\\ -0.6\\ -0.6\\  -0.6\\ -0.6\\ -0.6\\ -0.6\\ -0.6\\  -0.6\\ -0.6\\ -0.6\\ 2.8\\ 2.0\\  2.05\\ -0.4\\ 2.05\\ 0.65\\
-0.35\\ -0.35\\ -0.35\\ -0.35\\ -0.35\\  -0.35\\ -0.35\\ -0.35\\ -0.35\\ -0.35\\  -0.35\\ -0.35\\ -0.35\\ -0.35\\ -0.35\\  -0.35\\ -0.35\\ -0.35\\ -0.35\\ -0.35\\  -0.35\\ -0.35\\ -0.35\\ 3.85\\ 2.5\\  1.65\\ -0.35\\ -0.35\\ -0.35\\
-0.6\\ 0.2\\ 0.05\\ 0.05\\ 0.25\\  0.1\\ 0.1\\ -1.1\\ -1.1\\ 0.5\\  0.05\\ 0.05\\ 0\\ 0.85\\ -1.1\\  -1.1\\ 0.75\\ 0\\ -1.1\\ -1.1\\  -1.2\\ -1.2\\ -1.2\\ 1.5\\ 1.4\\  1.85\\ 1.4\\ 2.2\\ 0.25\\
-0.55\\ -0.55\\ -0.55\\ -0.55\\ -0.55\\  -0.55\\ 0.6\\ 1.4\\ -0.55\\ -0.55\\  -0.55\\ -0.55\\ -0.55\\ -0.55\\ -0.55\\  -0.55\\ -0.55\\ -0.55\\ -0.55\\ -0.55\\  -0.55\\ -0.55\\ -0.55\\ 2.35\\ 0.6\\  2.8\\ 2.0\\ 1.4\\ 0.65\\
-0.2\\ -0.2\\ -0.2\\ -0.2\\ -0.2\\  -0.2\\ -0.2\\ -0.2\\ -0.2\\ -0.2\\  -0.2\\ -0.2\\ -0.2\\ -0.2\\ -0.2\\  -0.2\\ -0.2\\ -0.2\\ -0.2\\ -0.2\\  -0.2\\ -0.2\\ -0.2\\ -0.2\\ -0.2\\  -0.2\\ -0.2\\ -0.2\\ 5\\
-0.25\\ -0.25\\ -0.25\\ -0.25\\ -0.25\\  -0.25\\ -0.25\\ -0.25\\ -0.25\\ -0.25\\  -0.25\\ -0.25\\ -0.25\\ -0.25\\ -0.25\\  -0.25\\ -0.25\\ -0.25\\ -0.25\\ -0.25\\  -0.25\\ -0.25\\ -0.25\\ -0.25\\ -0.25\\  2.5\\ 0.95\\ -0.25\\ 4.0\\
-1.65\\ -0.2\\ 0.35\\ 1.75\\ 2.1\\  -0.85\\ -0.85\\ -1.5\\ -0.15\\ -1.1\\  -0.4\\ -0.2\\ 0.3\\ -0.15\\ 0.1\\  0.3\\ -1.65\\ -0.15\\ -1.2\\ -0.15\\  -0.4\\ 1.15\\ 0.35\\ 0.7\\ 1.4\\  0.35\\ 1.4\\ -0.15\\ 1.9\\
2.3\\ 2.3\\ 2.3\\ 1.5\\ 1.4\\  -0.8\\ -0.8\\ -0.15\\ -0.8\\ 0.1\\  -0.8\\ -0.8\\ -0.8\\ -0.8\\ -0.8\\  0.75\\ -0.8\\ -0.8\\ -0.8\\ -0.8\\  -0.8\\ -0.8\\ -0.8\\ 0.6\\ -0.4\\  0.25\\ 0.7\\ -0.8\\ 0.6\\
};
\end{axis}

\node[anchor=west, inner sep=0pt, font=\panf] at (464.25pt,455.75pt) {B.};
\node[anchor=west, inner sep=0pt, font=\clsf] at (893.25pt,419.5pt) {Class};
\draw[gridc, line width=0.9pt, fill=clsA] (892pt,403.25pt) rectangle (902pt,413pt);
\draw[gridc, line width=0.9pt, fill=clsM] (892pt,393.5pt) rectangle (902pt,403.25pt);
\node[anchor=west, inner sep=0pt, font=\clsf] at (907.75pt,408.1pt) {A};
\node[anchor=west, inner sep=0pt, font=\clsf] at (907.75pt,398.4pt) {M};
\end{tikzpicture}
\end{document}
